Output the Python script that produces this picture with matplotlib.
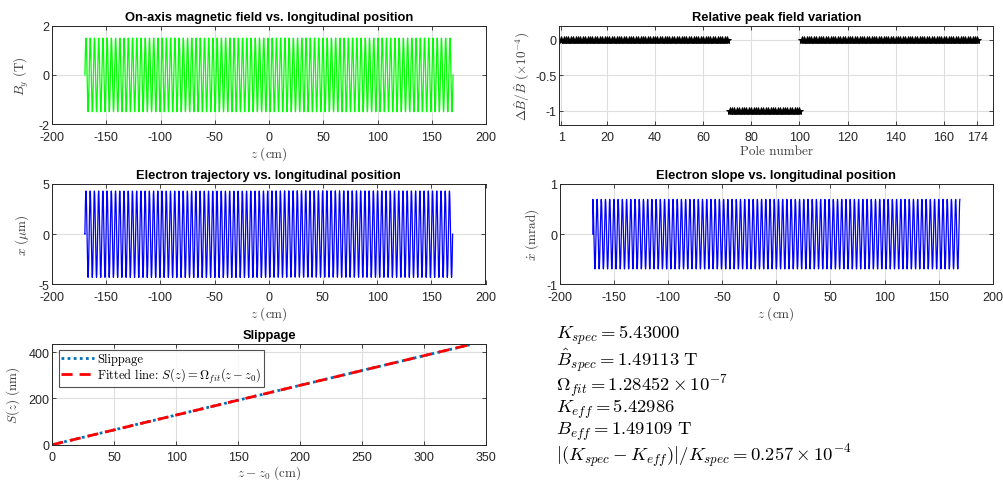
import numpy as np
import matplotlib
matplotlib.use("Agg")
import matplotlib.pyplot as plt

# ---- undulator / beam parameters ----
n_poles = 174
period_cm = 3.9
K_spec = 5.43000
B_spec = 1.49113          # T
Omega_fit = 1.28452e-7
K_eff = 5.42986
B_eff = 1.49109           # T
K_rel_dev = 0.257         # x 1e-4

# relative peak field error of each pole (x 1e-4)
pole_dB = [0] * 70 + [-1] * 30 + [0] * 74
pole_numbers = np.arange(1, n_poles + 1)

# ---- field, slope, trajectory, slippage ----
fine_per_pole = 64        # integration grid
plot_step = 8             # keep every 8th sample for drawing
L = n_poles * period_cm / 2
z_start = -L / 2
kz = 2 * np.pi / period_cm
z_parts, B_parts = [], []
for j, dB in enumerate(pole_dB):
    zz = np.linspace(z_start + j * period_cm / 2, z_start + (j + 1) * period_cm / 2,
                     fine_per_pole, endpoint=False)
    z_parts.append(zz)
    B_parts.append(B_spec * (1 + dB * 1e-4) * np.sin(kz * (zz - z_start)))
z = np.concatenate(z_parts + [[z_start + L]])
B = np.concatenate(B_parts + [[0.0]])


def cumtrapz(y, x):
    return np.concatenate([[0], np.cumsum(0.5 * (y[1:] + y[:-1]) * np.diff(x))])


gamma = np.sqrt((1 + K_spec ** 2 / 2) / (2 * Omega_fit))
e_over_mc = 1 / 1.7045e-3          # 1/(T m)
intB = cumtrapz(B, z) * 1e-2       # T m
slope = -intB * e_over_mc / gamma  # rad
# remove the net angle so the orbit leaves on axis
slope -= cumtrapz(slope, z)[-1] / L
x_traj = cumtrapz(slope, z)        # cm
x_traj -= 0.5 * (x_traj.max() + x_traj.min())
x_um = x_traj * 1e4
slope_mrad = slope * 1e3

integrand = 1 / (2 * gamma ** 2) + slope ** 2 / 2
slip_nm = cumtrapz(integrand, z) * 1e7
zrel = z - z[0]
fit_nm = Omega_fit * zrel * 1e7

# drawing samples, starting from the entry point on axis
idx = np.r_[np.arange(0, len(z) - 1, plot_step), len(z) - 1]
z_plot = np.r_[z[0], z[idx]]
B_plot = np.r_[0, B[idx]]
x_plot = np.r_[0, x_um[idx]]
s_plot = np.r_[0, slope_mrad[idx]]

# ---- styling ----
plt.rcParams['mathtext.fontset'] = 'cm'
plt.rcParams['font.family'] = 'Liberation Sans'
plt.rcParams['axes.unicode_minus'] = False
ink = '#262626'
grid_c = '#dedede'

fig = plt.figure(figsize=(10.04, 4.81), dpi=100)
W, H = 1004, 481


def make_ax(left, top, right, bottom):
    ax = fig.add_axes([left / W, 1 - bottom / H, (right - left) / W, (bottom - top) / H])
    ax.grid(True, color=grid_c, lw=0.8)
    ax.set_axisbelow(True)
    ax.tick_params(direction='in', length=3, width=0.6, top=True, right=True,
                   labelsize=9, colors=ink)
    ax.tick_params(axis='x', pad=4.5)
    ax.tick_params(axis='y', pad=2)
    for s in ax.spines.values():
        s.set_color(ink)
        s.set_linewidth(0.7)
    return ax


lab_kw = dict(fontsize=9.5, color='#404040')
tit_kw = dict(fontsize=9.3, fontweight='bold', color='black', pad=4)

# field
ax1 = make_ax(52, 26.5, 486, 125.3)
ax1.plot(z_plot, B_plot, color=(0, 1, 0), lw=0.9)
ax1.set_xlim(-200, 200)
ax1.set_ylim(-2, 2)
ax1.set_xticks(np.arange(-200, 201, 50))
ax1.set_yticks([-2, 0, 2])
ax1.set_xlabel(r'$z\ (\mathrm{cm})$', labelpad=1, **lab_kw)
ax1.set_ylabel(r'$B_y\ (\mathrm{T})$', labelpad=5, **lab_kw)
ax1.set_title('On-axis magnetic field vs. longitudinal position', **tit_kw)

# peak field variation
ax2 = make_ax(559.3, 26.5, 993.3, 126)
ax2.plot(pole_numbers, pole_dB, linestyle='none', marker='*', color='black',
         markersize=6, markeredgewidth=0.7)
ax2.set_xlim(0.2, 180.6)
ax2.set_ylim(-1.2, 0.2)
ax2.set_xticks([1, 20, 40, 60, 80, 100, 120, 140, 160, 174])
ax2.set_yticks([-1, -0.5, 0])
ax2.set_yticklabels(['-1', '-0.5', '0'])
ax2.set_xlabel('Pole number', fontfamily='cmr10', fontsize=9.5, color='#404040', labelpad=1)
ax2.set_ylabel(r'$\Delta\hat{B}/\hat{B}\ (\times 10^{-4})$', labelpad=2, **lab_kw)
ax2.set_title('Relative peak field variation', **tit_kw)

# trajectory
ax3 = make_ax(52, 185, 485.5, 285.3)
ax3.plot(z_plot, x_plot, color=(0, 0, 1), lw=0.9)
ax3.set_xlim(-200, 200)
ax3.set_ylim(-5, 5)
ax3.set_xticks(np.arange(-200, 201, 50))
ax3.set_yticks([-5, 0, 5])
ax3.set_xlabel(r'$z\ (\mathrm{cm})$', labelpad=1, **lab_kw)
ax3.set_ylabel(r'$x\ (\mu\mathrm{m})$', labelpad=5, **lab_kw)
ax3.set_title('Electron trajectory vs. longitudinal position', **tit_kw)

# slope
ax4 = make_ax(560, 185, 992.7, 285.3)
ax4.plot(z_plot, s_plot, color=(0, 0, 1), lw=0.9)
ax4.set_xlim(-200, 200)
ax4.set_ylim(-1, 1)
ax4.set_xticks(np.arange(-200, 201, 50))
ax4.set_yticks([-1, 0, 1])
ax4.set_xlabel(r'$z\ (\mathrm{cm})$', labelpad=1, **lab_kw)
ax4.set_ylabel(r'$\dot{x}\ (\mathrm{mrad})$', labelpad=3.5, **lab_kw)
ax4.set_title('Electron slope vs. longitudinal position', **tit_kw)

# slippage
ax5 = make_ax(52.3, 345, 486, 445.7)
ax5.plot(zrel, slip_nm, color='#0072BD', lw=2, linestyle=(0, (1, 1.2)), label='Slippage')
ax5.plot(zrel, fit_nm, color='red', lw=2, linestyle=(0, (4, 2.5)),
         label=r'Fitted line: $S(z) = \Omega_{fit}(z - z_0)$')
ax5.set_xlim(0, 350)
ax5.set_ylim(0, max(slip_nm.max(), fit_nm.max()))
ax5.set_xticks(np.arange(0, 351, 50))
ax5.set_yticks([0, 200, 400])
ax5.set_xlabel(r'$z - z_0\ (\mathrm{cm})$', labelpad=0, **lab_kw)
ax5.set_ylabel(r'$S(z)\ (\mathrm{nm})$', labelpad=5, **lab_kw)
ax5.set_title('Slippage', **tit_kw)
leg = ax5.legend(loc='upper left', frameon=True, fancybox=False,
                 handlelength=2.6, borderpad=0.2, labelspacing=0.05, handletextpad=0.3,
                 borderaxespad=0.5, prop={'family': 'cmr10', 'size': 9})
leg.get_frame().set_edgecolor(ink)
leg.get_frame().set_linewidth(0.8)

# summary text
lines = [
    r'$K_{spec} = %.5f$' % K_spec,
    r'$\hat{B}_{spec} = %.5f\ \mathrm{T}$' % B_spec,
    r'$\Omega_{fit} = %.5f \times 10^{-7}$' % (Omega_fit * 1e7),
    r'$K_{eff} = %.5f$' % K_eff,
    r'$B_{eff} = %.5f\ \mathrm{T}$' % B_eff,
    r'$|(K_{spec} - K_{eff})|/K_{spec} = %.3f \times 10^{-4}$' % K_rel_dev,
]
line_y = [335, 360, 386, 409, 432, 456]
for t, yy in zip(lines, line_y):
    fig.text(556 / W, 1 - yy / H, t, fontsize=13.4, color='black',
             ha='left', va='center')

fig.savefig('out.png', dpi=100)
